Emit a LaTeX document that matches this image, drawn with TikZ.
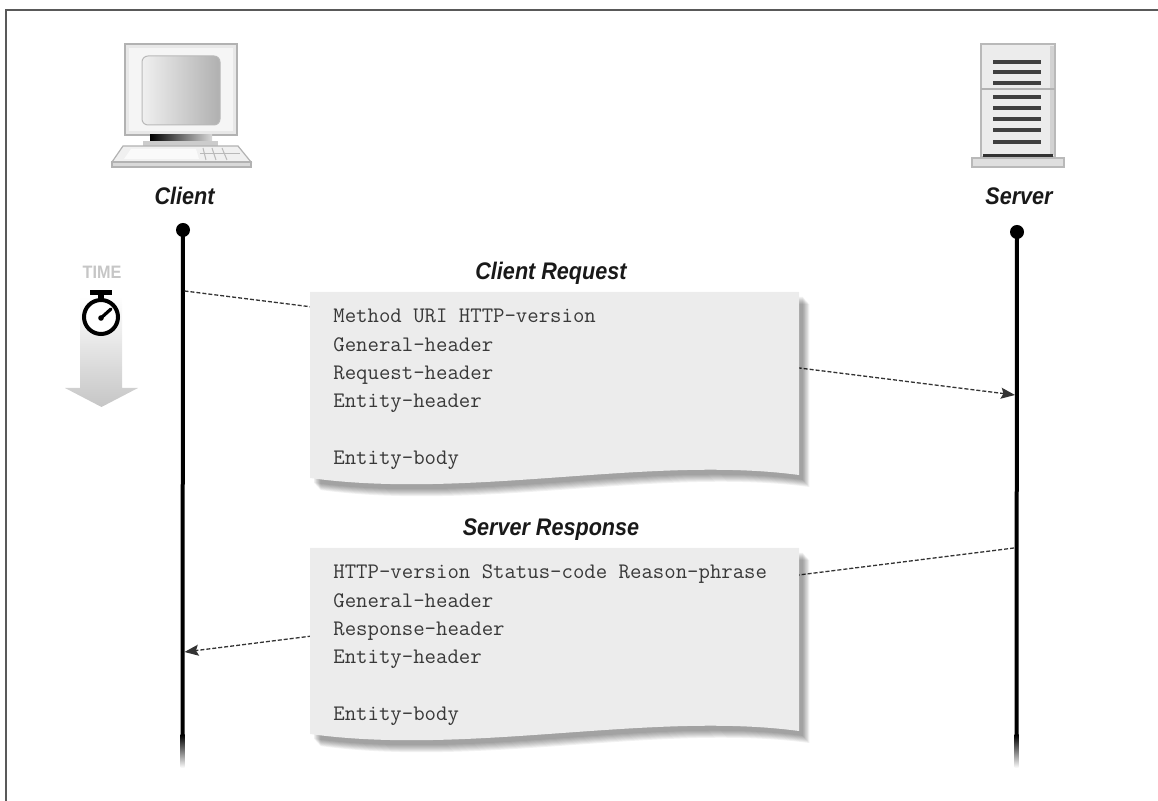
\documentclass[tikz,border=0pt]{standalone}
\usepackage{fontspec}
\setmainfont{Liberation Sans}
\newfontfamily\lblfont[FakeStretch=0.9]{Liberation Sans}
\usetikzlibrary{arrows.meta}
\tikzset{
  lbl/.style={font=\lblfont\bfseries\itshape\fontsize{12}{14}\selectfont, text=black!90, inner sep=0pt, anchor=base},
  codeline/.style={font=\ttfamily\fontsize{11.08}{13}\selectfont, text=black!78, inner sep=0pt, anchor=base west},
  msg/.style={draw=black!80, line width=0.65pt, dash pattern=on 2pt off 1pt, -{Stealth[length=7pt,width=5.5pt,inset=1.2pt]}},
  lifedot/.style={circle, fill=black, minimum size=7pt, inner sep=0pt},
  life/.style={line width=2pt, black},
  docfill/.style={fill=gray!15},
  edgefade/.style={top color=black, bottom color=white},
}
\def\docpath{(310,292) -- (799,292) -- (799,475) .. controls (650,455) and (470,500) .. (310,478) -- cycle}
\begin{document}
\begin{tikzpicture}[x=0.5pt,y=-0.5pt]
\useasboundingbox (0,0) rectangle (1158,801);
% frame
\draw[gray!70!black, line width=1pt] (5.5,801) -- (5.5,10.5) -- (1158,10.5);

% ---------- client computer ----------
\filldraw[fill=gray!18, draw=gray!60, line width=0.6pt] (125,44) rectangle (237,135);
\fill[gray!8] (129,48) rectangle (233,131);
\shade[left color=gray!12, right color=gray!62, draw=gray!55, line width=0.5pt, rounded corners=3pt] (142,56) rectangle (220,125);
\shade[left color=black, right color=gray!30] (150,135) rectangle (212,142);
\fill[gray!40] (143,141) rectangle (218,146);
\filldraw[fill=gray!12, draw=gray!60, line width=0.6pt] (123,146) -- (238,146) -- (251,162) -- (112,162) -- cycle;
\filldraw[fill=gray!30, draw=gray!60, line width=0.6pt] (112,162) rectangle (251,167);
\fill[gray!4] (131,149) -- (196,149) -- (199,159) -- (124,159) -- cycle;
\foreach \xa/\xb in {203/206, 212/216, 222/227}
  \draw[gray!55, line width=0.5pt] (\xa,148) -- (\xb,160);
\draw[gray!55, line width=0.5pt] (200,154) -- (240,154);
\node[lbl] (client) at (184.5,205) {Client};

% ---------- server ----------
\filldraw[fill=gray!15, draw=gray!55, line width=0.6pt] (981,44) rectangle (1055,157);
\fill[gray!35] (1050,46) rectangle (1054,155);
\draw[gray!60, line width=0.8pt] (981,89) -- (1055,89);
\foreach \y in {62,72,83,97,108,119,130,142}
  \draw[line width=1.6pt, black!75] (993,\y) -- (1041,\y);
\draw[line width=1.2pt, black!80] (983,155.5) -- (1053,155.5);
\filldraw[fill=gray!25, draw=gray!55, line width=0.6pt] (972,158) rectangle (1064,167);
\node[lbl] (server) at (1019,205) {Server};

% ---------- time indicator ----------
\node[font=\lblfont\bfseries\fontsize{9}{10}\selectfont, text=gray!45, inner sep=0pt, anchor=base] (time) at (102,279) {TIME};
\shade[top color=white, bottom color=gray!45] (80,297) -- (122,297) -- (122,388) -- (138,388) -- (101.5,407) -- (65,388) -- (80,388) -- cycle;
\fill[black] (90,290) rectangle (112,295);
\fill[black] (98,294) rectangle (104,300);
\draw[black, line width=2pt, fill=white] (101,317) circle (17);
\draw[black, line width=1.6pt, line cap=round] (101,318) -- (111,309);
\fill[black] (101,318) circle (2.8);

% ---------- lifelines ----------
\node[lifedot] (cdot) at (183,230) {};
\node[lifedot] (sdot) at (1017,232) {};
\coordinate (cend) at (182.5,736);
\coordinate (send) at (1016.5,736);
\draw[life] (cdot.center) -- (cend);
\draw[life] (sdot.center) -- (send);
\shade[edgefade] (180.5,735) rectangle (184.5,768);
\shade[edgefade] (1014.5,735) rectangle (1018.5,768);

% ---------- messages ----------
\coordinate (reqstart) at (184.5,291);
\coordinate (reqend) at (1015,395);
\coordinate (resstart) at (1014,548);
\coordinate (resend) at (184.5,652);
\draw[msg] (reqstart) -- (reqend);
\draw[msg] (resstart) -- (resend);

% ---------- request document ----------
\foreach \k in {0,...,7}
  \fill[black, opacity=0.055, shift={(4+\k*0.9,5+\k*1.0)}] \docpath;
\fill[docfill] \docpath;
\node[lbl] (reqtitle) at (551,280) {Client Request};
\node[codeline] (q1) at (333,323) {Method URI HTTP-version};
\node[codeline] (q2) at (333,351.3) {General-header};
\node[codeline] (q3) at (333,379.6) {Request-header};
\node[codeline] (q4) at (333,407.9) {Entity-header};
\node[codeline] (q5) at (333,464.5) {Entity-body};

% ---------- response document ----------
\begin{scope}[shift={(0,256)}]
\foreach \k in {0,...,7}
  \fill[black, opacity=0.055, shift={(4+\k*0.9,5+\k*1.0)}] \docpath;
\fill[docfill] \docpath;
\end{scope}
\node[lbl] (restitle) at (551,536) {Server Response};
\node[codeline] (s1) at (333,579) {HTTP-version Status-code Reason-phrase};
\node[codeline] (s2) at (333,607.3) {General-header};
\node[codeline] (s3) at (333,635.6) {Response-header};
\node[codeline] (s4) at (333,663.9) {Entity-header};
\node[codeline] (s5) at (333,720.5) {Entity-body};
\end{tikzpicture}
\end{document}
